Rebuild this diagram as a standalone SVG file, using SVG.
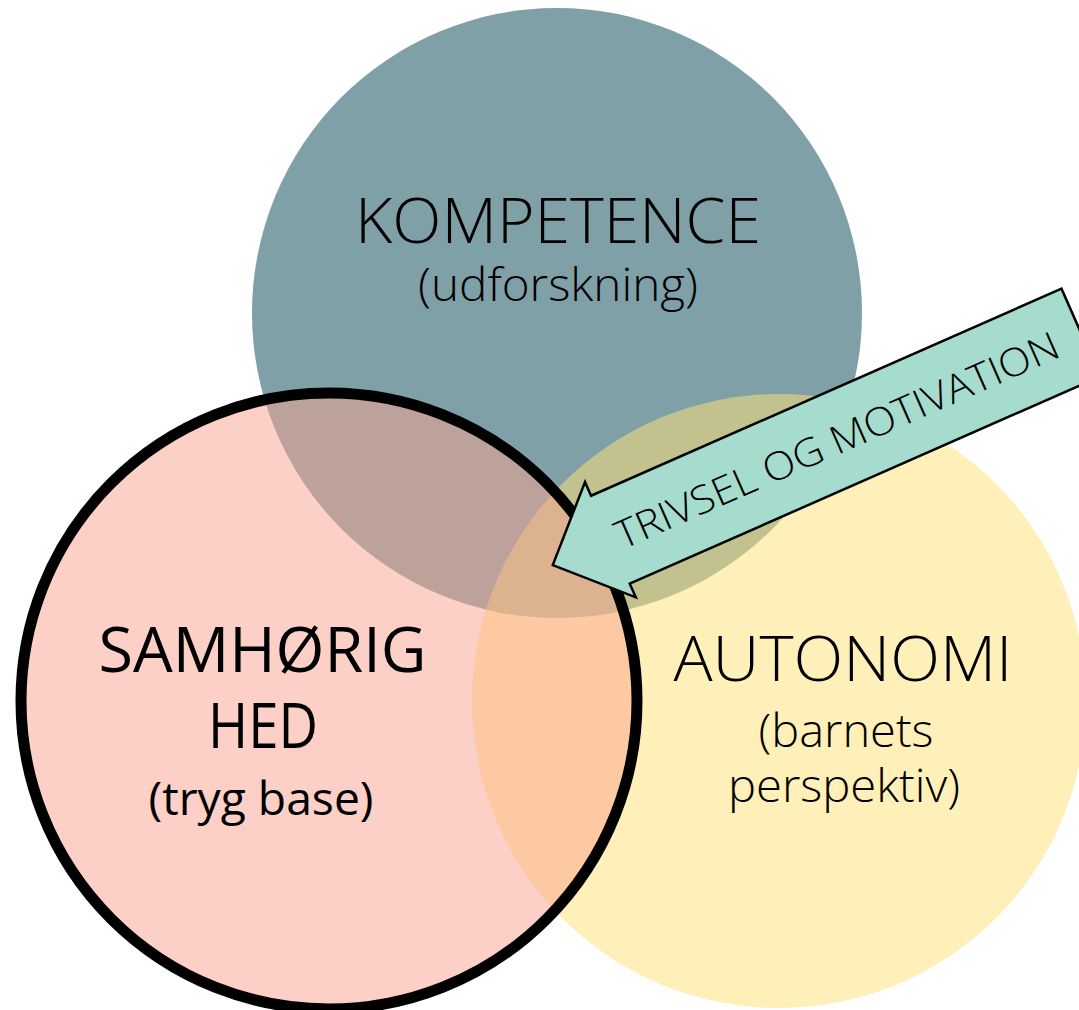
<svg xmlns="http://www.w3.org/2000/svg" width="1079" height="1010" viewBox="0 0 1079 1010">
<style>
.t{font-family:"Open Sans","Noto Sans","Liberation Sans",sans-serif;fill:#000;text-anchor:middle}
.light{font-weight:300}
.big{font-size:63px}
.sub{font-size:46px}
</style>
<rect width="1079" height="1010" fill="#ffffff"/>
<g id="kompetence">
<circle cx="557" cy="313" r="305" fill="#7FA0A7"/>
<text class="t light"><tspan class="big" x="558" y="243" textLength="406" lengthAdjust="spacingAndGlyphs">KOMPETENCE</tspan><tspan class="sub" x="558" y="301" textLength="280" lengthAdjust="spacingAndGlyphs">(udforskning)</tspan></text>
</g>
<g id="autonomi">
<circle cx="779" cy="701" r="307" fill="#FDE276" fill-opacity="0.52"/>
</g>
<g id="samhorighed">
<circle cx="329" cy="701" r="308" fill="#F9A38F" fill-opacity="0.51" stroke="#000" stroke-width="11"/>
</g>
<g id="labels">
<text class="t"><tspan class="big" x="262.5" y="672" textLength="328" lengthAdjust="spacingAndGlyphs">SAMHØRIG</tspan><tspan class="big" x="263" y="748" textLength="110" lengthAdjust="spacingAndGlyphs">HED</tspan><tspan class="sub" x="261" y="815" textLength="225" lengthAdjust="spacingAndGlyphs">(tryg base)</tspan></text>
<text class="t light"><tspan class="big" x="843" y="681" textLength="339" lengthAdjust="spacingAndGlyphs">AUTONOMI</tspan><tspan class="sub" x="846" y="747" textLength="175" lengthAdjust="spacingAndGlyphs">(barnets</tspan><tspan class="sub" x="844" y="802" textLength="232" lengthAdjust="spacingAndGlyphs">perspektiv)</tspan></text>
</g>
<g id="connectors">
<g id="arrow" transform="translate(610.4,539.7) rotate(-23.76)">
<path d="M-63,0 L0,-63 L0,-48 L514,-48 L514,48 L0,48 L0,63 Z" fill="#A6DCCD" stroke="#000" stroke-width="2.5" stroke-linejoin="miter"/>
<text class="light" x="7" y="14" font-family="Open Sans, Noto Sans, Liberation Sans, sans-serif" font-size="39" textLength="481" lengthAdjust="spacingAndGlyphs">TRIVSEL OG MOTIVATION</text>
</g>
</g>
</svg>
